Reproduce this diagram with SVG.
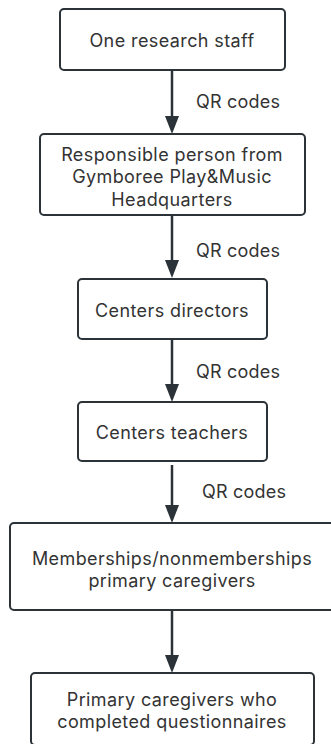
<svg xmlns="http://www.w3.org/2000/svg" width="331" height="744" viewBox="0 0 331 744">
<defs>
<style>
.box{fill:#fff;stroke:#2b3338;stroke-width:2}
.t{font-family:Inter,"Noto Sans",sans-serif;font-size:18px;letter-spacing:0.4px;fill:#333;text-anchor:middle}
.lbl{font-family:Inter,"Noto Sans",sans-serif;font-size:18px;letter-spacing:0.2px;fill:#333}
.edge{stroke:#2b3338;stroke-width:2.5;fill:none}
.head{fill:#2b3338}
</style>
</defs>
<rect width="331" height="744" fill="#fff"/>
<g id="connectors">
<line class="edge" x1="172" y1="70" x2="172" y2="118"/>
<polygon class="head" points="165,116 179,116 172,134"/>
<text class="lbl" x="196" y="108">QR codes</text>
<line class="edge" x1="172" y1="215" x2="172" y2="262"/>
<polygon class="head" points="165,260 179,260 172,278"/>
<text class="lbl" x="196" y="257">QR codes</text>
<line class="edge" x1="172" y1="339" x2="172" y2="386"/>
<polygon class="head" points="165,384 179,384 172,402"/>
<text class="lbl" x="196" y="378">QR codes</text>
<line class="edge" x1="172" y1="465" x2="172" y2="507"/>
<polygon class="head" points="165,505 179,505 172,523"/>
<text class="lbl" x="202" y="498">QR codes</text>
<line class="edge" x1="172" y1="610" x2="172" y2="657"/>
<polygon class="head" points="165,655 179,655 172,673"/>
</g>
<g id="n1"><rect class="box" x="60" y="9" width="225" height="61" rx="4"/><text class="t" x="172" y="47">One research staff</text></g>
<g id="n2"><rect class="box" x="40" y="134" width="265" height="81" rx="4"/><text class="t" x="172" y="160.5">Responsible person from</text><text class="t" x="172" y="183">Gymboree Play&amp;Music</text><text class="t" x="172" y="205.5">Headquarters</text></g>
<g id="n3"><rect class="box" x="78" y="279" width="189" height="60" rx="4"/><text class="t" x="172" y="317">Centers directors</text></g>
<g id="n4"><rect class="box" x="78" y="402" width="189" height="59" rx="4"/><text class="t" x="172" y="439">Centers teachers</text></g>
<g id="n5"><rect class="box" x="10" y="523" width="324" height="87" rx="4"/><text class="t" x="172" y="565">Memberships/nonmemberships</text><text class="t" x="172" y="587">primary caregivers</text></g>
<g id="n6"><rect class="box" x="31" y="673" width="283" height="72" rx="4"/><text class="t" x="172" y="706">Primary caregivers who</text><text class="t" x="172" y="728">completed questionnaires</text></g>
</svg>
